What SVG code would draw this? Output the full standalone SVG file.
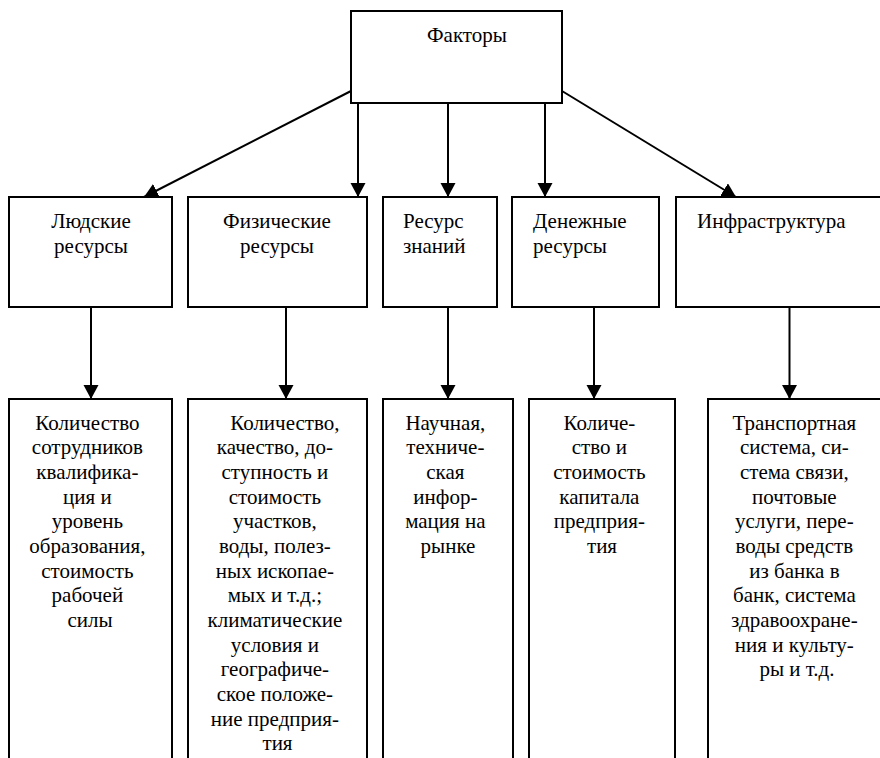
<svg xmlns="http://www.w3.org/2000/svg" width="880" height="758" viewBox="0 0 880 758">
<defs>
<marker id="ah" markerUnits="userSpaceOnUse" markerWidth="16" markerHeight="16" refX="14" refY="7.5" orient="auto" viewBox="0 0 16 16">
<path d="M0,0 L14,7.5 L0,15 z" fill="#000"/>
</marker>
<style>
.box{fill:#fff;stroke:#000;stroke-width:2}
.t{font-family:'Liberation Serif','Times New Roman',serif;font-size:21px;fill:#000}
.c{text-anchor:middle}
.ln{stroke:#000;stroke-width:2;fill:none;marker-end:url(#ah)}
</style>
</defs>
<rect width="880" height="758" fill="#fff"/>

<g id="connectors">
<line class="ln" x1="351" y1="91" x2="144" y2="197"/>
<line class="ln" x1="358" y1="103" x2="358" y2="197"/>
<line class="ln" x1="448" y1="103" x2="448" y2="197"/>
<line class="ln" x1="545" y1="103" x2="545" y2="197"/>
<line class="ln" x1="562" y1="91" x2="736" y2="197"/>
<line class="ln" x1="91" y1="307" x2="91" y2="399"/>
<line class="ln" x1="286" y1="307" x2="286" y2="399"/>
<line class="ln" x1="448" y1="307" x2="448" y2="399"/>
<line class="ln" x1="594" y1="307" x2="594" y2="399"/>
<line class="ln" x1="789.5" y1="307" x2="789.5" y2="399"/>
</g>

<g id="factors">
<rect class="box" x="351" y="11" width="211" height="92"/>
<text class="t" x="427" y="42">Факторы</text>
</g>

<g id="human">
<rect class="box" x="9" y="197" width="163" height="110"/>
<text class="t c" x="91" y="228">Людские</text>
<text class="t c" x="91" y="253">ресурсы</text>
</g>
<g id="physical">
<rect class="box" x="188" y="197" width="179" height="110"/>
<text class="t c" x="277" y="228">Физические</text>
<text class="t c" x="277" y="253">ресурсы</text>
</g>
<g id="knowledge">
<rect class="box" x="383" y="197" width="114" height="110"/>
<text class="t" x="403" y="228">Ресурс</text>
<text class="t" x="403" y="253">знаний</text>
</g>
<g id="money">
<rect class="box" x="512" y="197" width="147" height="110"/>
<text class="t" x="533" y="228">Денежные</text>
<text class="t" x="533" y="253">ресурсы</text>
</g>
<g id="infra">
<rect class="box" x="676" y="197" width="220" height="110"/>
<text class="t" x="697" y="228">Инфраструктура</text>
</g>

<g id="human-detail">
<rect class="box" x="9" y="399" width="163" height="380"/>
<text class="t c" y="429.5">
<tspan x="90" dy="0">Количество</tspan>
<tspan x="90" dy="24.67">сотрудников</tspan>
<tspan x="90" dy="24.67">квалифика-</tspan>
<tspan x="90" dy="24.67">ция и</tspan>
<tspan x="90" dy="24.67">уровень</tspan>
<tspan x="90" dy="24.67">образования,</tspan>
<tspan x="90" dy="24.67">стоимость</tspan>
<tspan x="90" dy="24.67">рабочей</tspan>
<tspan x="90" dy="24.67">силы</tspan>
</text>
</g>
<g id="physical-detail">
<rect class="box" x="188" y="399" width="179" height="380"/>
<text class="t c" y="429.5">
<tspan x="287.5" dy="0">Количество,</tspan>
<tspan x="277.5" dy="24.67">качество, до-</tspan>
<tspan x="277.5" dy="24.67">ступность и</tspan>
<tspan x="277.5" dy="24.67">стоимость</tspan>
<tspan x="277.5" dy="24.67">участков,</tspan>
<tspan x="277.5" dy="24.67">воды, полез-</tspan>
<tspan x="277.5" dy="24.67">ных ископае-</tspan>
<tspan x="277.5" dy="24.67">мых и т.д.;</tspan>
<tspan x="277.5" dy="24.67">климатические</tspan>
<tspan x="277.5" dy="24.67">условия и</tspan>
<tspan x="277.5" dy="24.67">географиче-</tspan>
<tspan x="277.5" dy="24.67">ское положе-</tspan>
<tspan x="277.5" dy="24.67">ние предприя-</tspan>
<tspan x="277.5" dy="24.67">тия</tspan>
</text>
</g>
<g id="knowledge-detail">
<rect class="box" x="383" y="399" width="130" height="380"/>
<text class="t c" y="429.5">
<tspan x="448" dy="0">Научная,</tspan>
<tspan x="448" dy="24.67">техниче-</tspan>
<tspan x="448" dy="24.67">ская</tspan>
<tspan x="448" dy="24.67">инфор-</tspan>
<tspan x="448" dy="24.67">мация на</tspan>
<tspan x="448" dy="24.67">рынке</tspan>
</text>
</g>
<g id="money-detail">
<rect class="box" x="529" y="399" width="146" height="380"/>
<text class="t c" y="429.5">
<tspan x="602" dy="0">Количе-</tspan>
<tspan x="602" dy="24.67">ство и</tspan>
<tspan x="602" dy="24.67">стоимость</tspan>
<tspan x="602" dy="24.67">капитала</tspan>
<tspan x="602" dy="24.67">предприя-</tspan>
<tspan x="602" dy="24.67">тия</tspan>
</text>
</g>
<g id="infra-detail">
<rect class="box" x="708" y="399" width="190" height="380"/>
<text class="t c" y="429.5">
<tspan x="797" dy="0">Транспортная</tspan>
<tspan x="797" dy="24.67">система, си-</tspan>
<tspan x="797" dy="24.67">стема связи,</tspan>
<tspan x="797" dy="24.67">почтовые</tspan>
<tspan x="797" dy="24.67">услуги, пере-</tspan>
<tspan x="797" dy="24.67">воды средств</tspan>
<tspan x="797" dy="24.67">из банка в</tspan>
<tspan x="797" dy="24.67">банк, система</tspan>
<tspan x="797" dy="24.67">здравоохране-</tspan>
<tspan x="797" dy="24.67">ния и культу-</tspan>
<tspan x="797" dy="24.67">ры и т.д.</tspan>
</text>
</g>
</svg>
